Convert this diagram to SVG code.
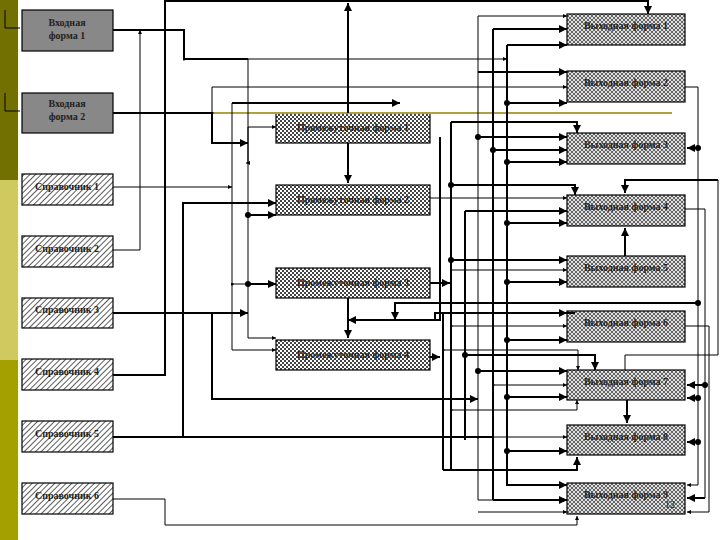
<svg xmlns="http://www.w3.org/2000/svg" width="720" height="540" viewBox="0 0 720 540">
<defs>
<pattern id="hatch" width="4" height="4" patternUnits="userSpaceOnUse" patternTransform="rotate(45)"><rect width="4" height="4" fill="#fff"/><line x1="0" y1="0" x2="0" y2="4" stroke="#333" stroke-width="1.6"/></pattern>
<pattern id="check" width="4" height="4" patternUnits="userSpaceOnUse"><rect width="4" height="4" fill="#fff"/><rect width="2" height="2" fill="#444"/><rect x="2" y="2" width="2" height="2" fill="#444"/></pattern>
<pattern id="cross" width="4" height="4" patternUnits="userSpaceOnUse"><rect width="4" height="4" fill="#e0e0e0"/><path d="M0,0L4,4M4,0L0,4" stroke="#444" stroke-width="0.8"/></pattern>
<marker id="a" viewBox="0 0 10 10" refX="10" refY="5" markerWidth="4" markerHeight="4" orient="auto"><path d="M0,0L10,5L0,10z" fill="#000"/></marker>
<marker id="d" viewBox="0 0 10 10" refX="5" refY="5" markerWidth="3" markerHeight="3"><circle cx="5" cy="5" r="5" fill="#000"/></marker>
</defs>
<style>
.n rect{stroke:#000;stroke-width:1.2}
.in rect{fill:#888}
.sp rect{fill:url(#hatch)}
.pr rect{fill:url(#check)}
.ou rect{fill:url(#cross)}
text{font-family:"Liberation Serif",serif;font-size:10px;font-weight:bold;fill:#222;text-anchor:middle}
.c path{fill:none;stroke:#000;stroke-width:1}
.c path.t{stroke-width:2}
.c path.m{marker-end:url(#a)}
.c path.s{marker-start:url(#d)}
</style>
<rect x="0" y="0" width="18" height="180" fill="#727000"/>
<rect x="0" y="180" width="18" height="180" fill="#cfc960"/>
<rect x="0" y="360" width="18" height="180" fill="#a3a000"/>
<path d="M5,10V28H20M5,93V111H20" fill="none" stroke="#000" stroke-width="1"/>
<g class="n in" id="in1"><rect x="22" y="10" width="91" height="41"/><text x="67" y="26">Входная</text><text x="67" y="39">форма 1</text></g>
<g class="n in" id="in2"><rect x="22" y="93" width="91" height="40"/><text x="67" y="107">Входная</text><text x="67" y="120">форма 2</text></g>
<g class="n sp" id="s1"><rect x="22" y="174" width="91" height="31"/><text x="67" y="190">Справочник 1</text></g>
<g class="n sp" id="s2"><rect x="22" y="236" width="91" height="31"/><text x="67" y="252">Справочник 2</text></g>
<g class="n sp" id="s3"><rect x="22" y="298" width="91" height="30"/><text x="67" y="313">Справочник 3</text></g>
<g class="n sp" id="s4"><rect x="22" y="359" width="91" height="31"/><text x="67" y="375">Справочник 4</text></g>
<g class="n sp" id="s5"><rect x="22" y="421" width="91" height="31"/><text x="67" y="437">Справочник 5</text></g>
<g class="n sp" id="s6"><rect x="22" y="483" width="91" height="31"/><text x="67" y="499">Справочник 6</text></g>
<g class="n pr" id="p1"><rect x="276" y="113" width="154" height="30"/><text x="353" y="131">Промежуточная форма 1</text></g>
<g class="n pr" id="p2"><rect x="276" y="185" width="154" height="30"/><text x="353" y="203">Промежуточная форма 2</text></g>
<g class="n pr" id="p3"><rect x="276" y="268" width="154" height="30"/><text x="353" y="286">Промежуточная форма 3</text></g>
<g class="n pr" id="p4"><rect x="276" y="340" width="154" height="30"/><text x="353" y="358">Промежуточная форма 4</text></g>
<g class="n ou" id="o1"><rect x="567" y="14" width="118" height="31"/><text x="626" y="29">Выходная форма 1</text></g>
<g class="n ou" id="o2"><rect x="567" y="71" width="118" height="31"/><text x="626" y="86">Выходная форма 2</text></g>
<g class="n ou" id="o3"><rect x="567" y="133" width="118" height="31"/><text x="626" y="148">Выходная форма 3</text></g>
<g class="n ou" id="o4"><rect x="567" y="195" width="118" height="31"/><text x="626" y="210">Выходная форма 4</text></g>
<g class="n ou" id="o5"><rect x="567" y="256" width="118" height="31"/><text x="626" y="271">Выходная форма 5</text></g>
<g class="n ou" id="o6"><rect x="567" y="311" width="118" height="31"/><text x="626" y="326">Выходная форма 6</text></g>
<g class="n ou" id="o7"><rect x="567" y="370" width="118" height="30"/><text x="626" y="385">Выходная форма 7</text></g>
<g class="n ou" id="o8"><rect x="567" y="425" width="118" height="30"/><text x="626" y="440">Выходная форма 8</text></g>
<g class="n ou" id="o9"><rect x="567" y="483" width="118" height="31"/><text x="626" y="498">Выходная форма 9</text><text x="670" y="508" style="font-weight:normal">12</text></g>
<path d="M113,113H672" stroke="#b0a040" stroke-width="2"/>
<g class="c">
<path class="t" d="M113,30H184V59H248"/>
<path class="m" d="M184,59H248V163H246" />
<path class="m s" d="M184,59H507"/>
<path class="m" d="M113,250H140V30"/>
<path class="t m" d="M165,107V1H648V14"/>
<path class="t m" d="M348,113V3"/>
<path class="t m" d="M348,143V183"/>
<path class="t" d="M113,375H165V107"/>
<path class="t" d="M113,113H212"/>
<path class="m s" d="M212,113V87H567"/>
<path class="t m" d="M212,113V143H248"/>
<path class="t m" d="M232,103H400"/>
<path class="m" d="M232,103V350H276"/>
<path class="m" d="M113,187H232"/>
<path class="m" d="M248,127H276"/>
<path class="t m" d="M113,313H248"/>
<path class="t" d="M212,313V399H443"/>
<path class="t m" d="M183,437V203H276"/>
<path class="t" d="M113,437H493"/>
<path class="t m s" d="M248,215H276"/>
<path class="m" d="M248,127V338H276"/>
<path class="t m s" d="M248,284H276"/>
<path class="m s" d="M232,284H276"/>
<path class="m" d="M113,499H165V525H577V516"/>
<path class="t m" d="M430,283H450"/>
<path class="t m" d="M430,357H440"/>
<path class="t m" d="M348,298V338"/>
<path class="t m" d="M376,320H348"/>
<path class="t" d="M376,320H440V137"/>
<path class="m" d="M478,16H567"/>
<path class="m" d="M478,16V500H567"/>
<path class="t m" d="M493,29H567"/>
<path class="t" d="M493,29V103"/>
<path class="t m" d="M507,45H567"/>
<path class="t" d="M507,45V485H567"/>
<path class="t m" d="M478,72H567"/>
<path class="t m s" d="M507,103H567"/>
<path class="t m" d="M451,122H577V133"/>
<path class="t" d="M451,122V470H570"/>
<path class="t m s" d="M478,137H567"/>
<path class="t m s" d="M493,150H567"/>
<path class="t m s" d="M507,162H567"/>
<path class="t m s" d="M451,185H575V195"/>
<path class="m" d="M430,198H567"/>
<path class="t m" d="M465,211H567"/>
<path class="t" d="M465,211V440"/>
<path class="t m s" d="M507,223H567"/>
<path class="t m s" d="M451,260H567"/>
<path class="m" d="M451,270H567"/>
<path class="t m s" d="M507,282H567"/>
<path class="t" d="M360,320H435V313H575"/>
<path class="t m" d="M443,313H567"/>
<path class="m s" d="M451,326H567"/>
<path class="t m s" d="M507,340H567"/>
<path class="m s" d="M443,350H578V370"/>
<path class="t m s" d="M465,355H595V370"/>
<path class="t m s" d="M478,371H567"/>
<path class="t m" d="M443,399H478"/>
<path class="m s" d="M493,385H567"/>
<path class="t m s" d="M507,397H567"/>
<path class="m s" d="M451,410H577V400"/>
<path class="t m" d="M627,400V423"/>
<path class="t" d="M443,313V470"/>
<path class="m s" d="M478,437H567"/>
<path class="t m s" d="M507,451H567"/>
<path class="t m" d="M443,470H577V457"/>
<path class="t m" d="M507,485H567"/>
<path class="t m" d="M493,500H567"/>
<path class="m" d="M478,512H567"/>
<path class="t" d="M493,103V500"/>
<path d="M685,87H698V148"/>
<path class="t m s" d="M698,148H687"/>
<path class="m" d="M698,148V485H687"/>
<path d="M685,209H705V498"/>
<path class="t m" d="M705,498H687"/>
<path d="M685,326H709V512"/>
<path class="m" d="M709,512H687"/>
<path class="t m" d="M718,180H625V193"/>
<path class="t m" d="M625,256V228"/>
<path d="M625,370V355H718V180"/>
<path class="t m s" d="M705,385H687"/>
<path class="t m s" d="M698,398H687"/>
<path class="t m s" d="M698,442H687"/>
<path class="t m s" d="M698,303H395V320"/>
</g>
</svg>
